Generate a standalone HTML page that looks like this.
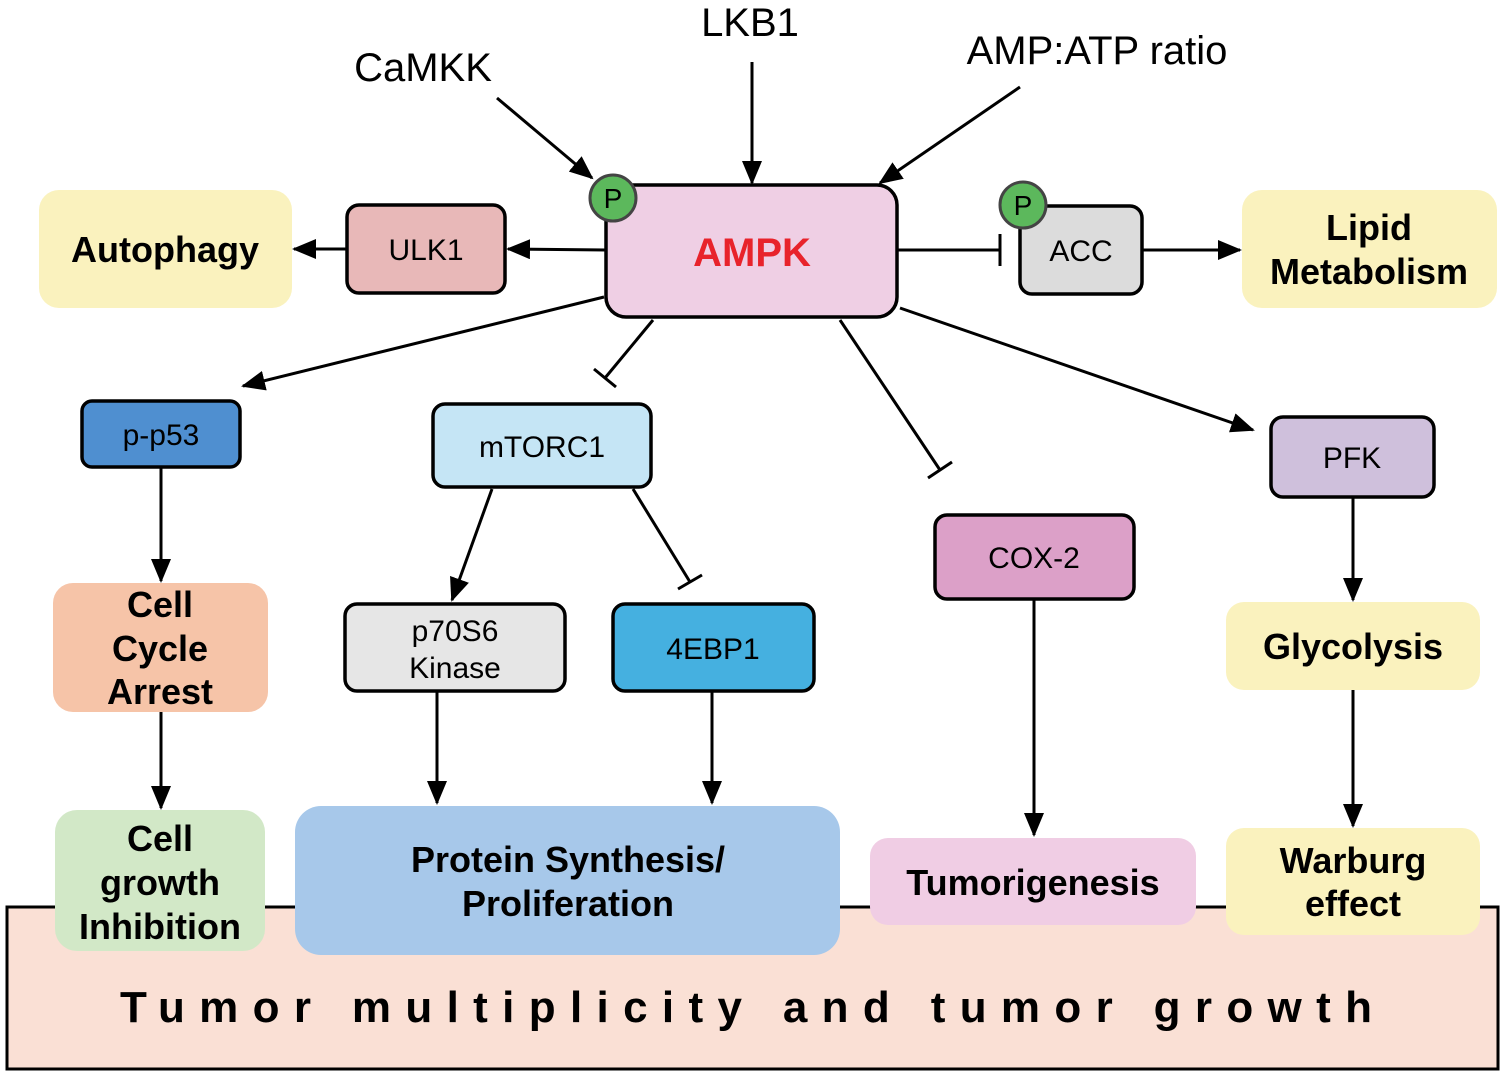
<!DOCTYPE html>
<html><head><meta charset="utf-8"><style>
html,body{margin:0;padding:0;background:#fff;width:1504px;height:1074px;overflow:hidden}
svg{display:block}
text{font-family:"Liberation Sans",Arial,sans-serif}
.b{font-weight:bold}
</style></head><body>
<svg width="1504" height="1074" viewBox="0 0 1504 1074" xmlns="http://www.w3.org/2000/svg">
<defs>
<marker id="ah" viewBox="0 0 24 20" refX="22" refY="10" markerWidth="24" markerHeight="20" orient="auto" markerUnits="userSpaceOnUse">
<path d="M0,0 L24,10 L0,20 Z" fill="#000"/>
</marker>
</defs>
<rect x="7" y="907" width="1491" height="162" fill="#fae0d5" stroke="#000" stroke-width="3"/>
<text x="120" y="1022" font-size="44" class="b" textLength="1252" lengthAdjust="spacing">Tumor multiplicity and tumor growth</text>

<g stroke="#000" stroke-width="3" fill="none">
<line x1="497" y1="98" x2="592" y2="178" marker-end="url(#ah)"/>
<line x1="752" y1="62" x2="752" y2="183" marker-end="url(#ah)"/>
<line x1="1020" y1="87" x2="880" y2="183" marker-end="url(#ah)"/>
<line x1="606" y1="250" x2="508" y2="249" marker-end="url(#ah)"/>
<line x1="347" y1="249" x2="294" y2="249" marker-end="url(#ah)"/>
<line x1="897" y1="250" x2="1000" y2="250"/>
<line x1="1000" y1="234" x2="1000" y2="266"/>
<line x1="1142" y1="250" x2="1240" y2="250" marker-end="url(#ah)"/>
<line x1="604" y1="297" x2="243" y2="386" marker-end="url(#ah)"/>
<line x1="653" y1="320" x2="605" y2="378"/>
<line x1="594" y1="369" x2="616" y2="387"/>
<line x1="840" y1="320" x2="940" y2="470"/>
<line x1="928" y1="478" x2="952" y2="462"/>
<line x1="900" y1="308" x2="1253" y2="430" marker-end="url(#ah)"/>
<line x1="161" y1="467" x2="161" y2="581" marker-end="url(#ah)"/>
<line x1="161" y1="712" x2="161" y2="808" marker-end="url(#ah)"/>
<line x1="492" y1="489" x2="452" y2="600" marker-end="url(#ah)"/>
<line x1="633" y1="489" x2="690" y2="582"/>
<line x1="678" y1="589" x2="702" y2="575"/>
<line x1="437" y1="691" x2="437" y2="803" marker-end="url(#ah)"/>
<line x1="712" y1="691" x2="712" y2="803" marker-end="url(#ah)"/>
<line x1="1034" y1="599" x2="1034" y2="835" marker-end="url(#ah)"/>
<line x1="1353" y1="497" x2="1353" y2="600" marker-end="url(#ah)"/>
<line x1="1353" y1="690" x2="1353" y2="826" marker-end="url(#ah)"/>
</g>

<text x="423" y="81" font-size="40" text-anchor="middle">CaMKK</text>
<text x="750" y="36" font-size="40" text-anchor="middle">LKB1</text>
<text x="1097" y="64" font-size="40" text-anchor="middle">AMP:ATP ratio</text>

<rect x="39" y="190" width="253" height="118" rx="20" fill="#faf2be"/>
<text x="165" y="262" font-size="36" class="b" text-anchor="middle">Autophagy</text>
<rect x="1242" y="190" width="255" height="118" rx="20" fill="#faf2be"/>
<text x="1369" y="240" font-size="36" class="b" text-anchor="middle">Lipid</text>
<text x="1369" y="284" font-size="36" class="b" text-anchor="middle">Metabolism</text>
<rect x="53" y="583" width="215" height="129" rx="20" fill="#f6c4a8"/>
<text x="160" y="617" font-size="36" class="b" text-anchor="middle">Cell</text>
<text x="160" y="661" font-size="36" class="b" text-anchor="middle">Cycle</text>
<text x="160" y="704" font-size="36" class="b" text-anchor="middle">Arrest</text>
<rect x="1226" y="602" width="254" height="88" rx="18" fill="#faf2be"/>
<text x="1353" y="659" font-size="36" class="b" text-anchor="middle">Glycolysis</text>
<rect x="55" y="810" width="210" height="141" rx="22" fill="#d2e8c7"/>
<text x="160" y="851" font-size="36" class="b" text-anchor="middle">Cell</text>
<text x="160" y="895" font-size="36" class="b" text-anchor="middle">growth</text>
<text x="160" y="939" font-size="36" class="b" text-anchor="middle">Inhibition</text>
<rect x="295" y="806" width="545" height="149" rx="26" fill="#a7c8ea"/>
<text x="568" y="872" font-size="36" class="b" text-anchor="middle">Protein Synthesis/</text>
<text x="568" y="916" font-size="36" class="b" text-anchor="middle">Proliferation</text>
<rect x="870" y="838" width="326" height="87" rx="18" fill="#f0cde4"/>
<text x="1033" y="895" font-size="36" class="b" text-anchor="middle">Tumorigenesis</text>
<rect x="1226" y="828" width="254" height="107" rx="18" fill="#faf2be"/>
<text x="1353" y="873" font-size="36" class="b" text-anchor="middle">Warburg</text>
<text x="1353" y="916" font-size="36" class="b" text-anchor="middle">effect</text>

<g stroke="#000" stroke-width="3.5">
<rect x="606" y="185" width="291" height="132" rx="20" fill="#efcfe4"/>
<rect x="347" y="205" width="158" height="88" rx="12" fill="#e8b8b8"/>
<rect x="1020" y="206" width="122" height="88" rx="12" fill="#dcdcdc"/>
<rect x="82" y="401" width="158" height="66" rx="10" fill="#4f8fd0"/>
<rect x="433" y="404" width="218" height="83" rx="12" fill="#c5e5f5"/>
<rect x="345" y="604" width="220" height="87" rx="12" fill="#e6e6e6"/>
<rect x="613" y="604" width="201" height="87" rx="12" fill="#45b0e0"/>
<rect x="935" y="515" width="199" height="84" rx="12" fill="#dca0c8"/>
<rect x="1271" y="417" width="163" height="80" rx="12" fill="#cfc0dc"/>
</g>
<g stroke="#444" stroke-width="3" fill="#5cb85c">
<circle cx="613" cy="198" r="23"/>
<circle cx="1023" cy="205" r="23"/>
</g>
<text x="613" y="208" font-size="28" text-anchor="middle">P</text>
<text x="1023" y="215" font-size="28" text-anchor="middle">P</text>

<text x="752" y="266" font-size="40" class="b" fill="#e8232b" text-anchor="middle">AMPK</text>
<g font-size="30" text-anchor="middle">
<text x="426" y="260">ULK1</text>
<text x="1081" y="261">ACC</text>
<text x="161" y="445">p-p53</text>
<text x="542" y="457">mTORC1</text>
<text x="455" y="641">p70S6</text>
<text x="455" y="678">Kinase</text>
<text x="713" y="659">4EBP1</text>
<text x="1034" y="568">COX-2</text>
<text x="1352" y="468">PFK</text>
</g>
</svg>
</body></html>
